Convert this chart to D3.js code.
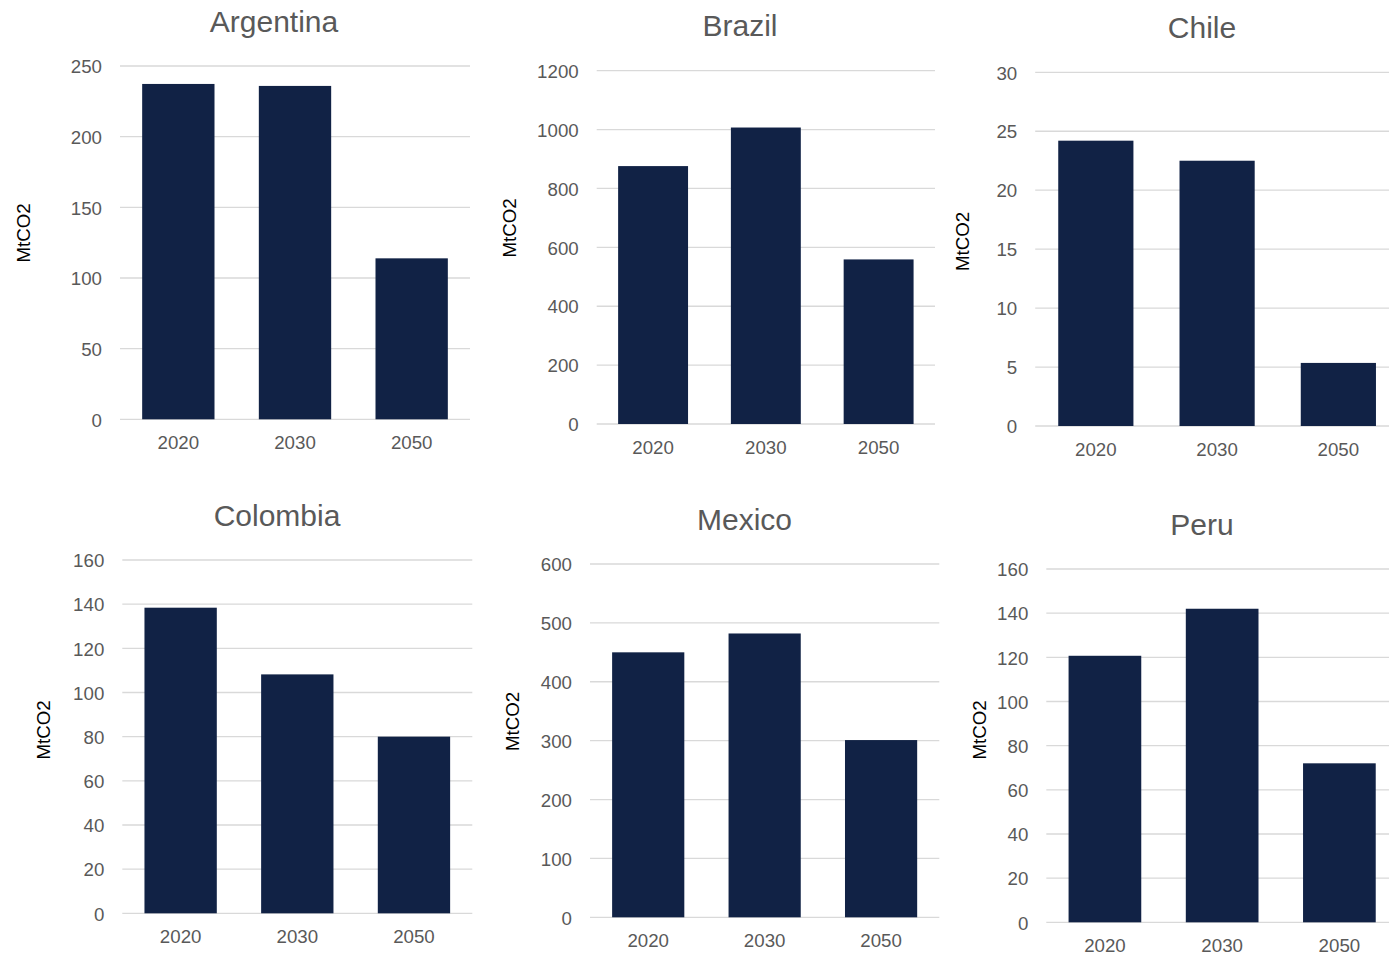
<!DOCTYPE html>
<html>
<head>
<meta charset="utf-8">
<script src="https://cdn.jsdelivr.net/npm/d3@7"></script>
<style>
  html, body { margin: 0; padding: 0; background: #ffffff; overflow: hidden; }
  svg { display: block; font-family: "Liberation Sans", Arial, sans-serif; }
</style>
</head>
<body>
<svg id="chart" width="1389" height="953"></svg>
<script>
// CO2 emissions (MtCO2) by country and year
const countries = ["Argentina", "Brazil", "Chile", "Colombia", "Mexico", "Peru"];
const years = ["2020", "2030", "2050"];
const argentina = [237.3, 235.9, 113.9];
const brazil = [876, 1007, 559];
const chile = [24.2, 22.5, 5.35];
const colombia = [138.4, 108.2, 80.0];
const mexico = [450, 482, 301];
const peru = [120.7, 142.0, 72.0];
const seriesValues = [argentina, brazil, chile, colombia, mexico, peru];
// y-axis maximum and tick step for each country
const axisMax = [250, 1200, 30, 160, 600, 160];
const axisStep = [50, 200, 5, 20, 100, 20];
const yAxisTitle = "MtCO2";

// plot boxes for the six panels (left, right, top, bottom), title centre and y-title position
const panels = [
  { l: 120, r: 470, t: 66, b: 419.3, tx: 274, ytx: 23, yty: 233 },
  { l: 596.7, r: 935, t: 70.7, b: 424, tx: 740, ytx: 509, yty: 228 },
  { l: 1035.2, r: 1399, t: 72.3, b: 426, tx: 1202, ytx: 962, yty: 241.5 },
  { l: 122.3, r: 472.3, t: 560, b: 913.3, tx: 277, ytx: 43, yty: 730 },
  { l: 590, r: 939.3, t: 564, b: 917.3, tx: 744.5, ytx: 512, yty: 721.5 },
  { l: 1046.3, r: 1398, t: 569, b: 922.3, tx: 1202, ytx: 979.5, yty: 730 }
];

const svg = d3.select("#chart");
const barColor = "#112245";
const gridColor = "#d9d9d9";
const textGray = "#595959";

countries.forEach((name, i) => {
  const p = panels[i];
  const values = seriesValues[i];
  const g = svg.append("g");

  const x = d3.scaleBand().domain(years).range([p.l, p.r])
    .paddingInner(0.38).paddingOuter(0.19);
  const y = d3.scaleLinear().domain([0, axisMax[i]]).range([p.b, p.t]);
  const ticks = d3.range(0, axisMax[i] + axisStep[i] / 2, axisStep[i]);

  // gridlines
  g.append("g").selectAll("line").data(ticks).join("line")
    .attr("x1", p.l).attr("x2", p.r)
    .attr("y1", d => y(d)).attr("y2", d => y(d))
    .attr("stroke", gridColor).attr("stroke-width", 1.3);

  // y tick labels
  const yAxis = d3.axisLeft(y).tickValues(ticks).tickSize(0).tickPadding(18)
    .tickFormat(d3.format("d"));
  const ya = g.append("g").attr("transform", `translate(${p.l},0)`).call(yAxis);
  ya.select(".domain").remove();
  ya.selectAll("text").attr("fill", textGray).style("font-size", "18.7px")
    .attr("dy", "0.36em");

  // bars
  g.append("g").selectAll("rect").data(values).join("rect")
    .attr("x", (d, j) => x(years[j]))
    .attr("width", x.bandwidth())
    .attr("y", d => y(d))
    .attr("height", d => y(0) - y(d))
    .attr("fill", barColor);

  // x tick labels
  const xAxis = d3.axisBottom(x).tickSize(0).tickPadding(0);
  const xa = g.append("g").attr("transform", `translate(0,${p.b})`).call(xAxis);
  xa.select(".domain").remove();
  xa.selectAll("text").attr("fill", textGray).style("font-size", "18.7px")
    .attr("dy", null).attr("y", 30);

  // title
  g.append("text")
    .attr("x", p.tx)
    .attr("y", p.t - 34.5)
    .attr("text-anchor", "middle")
    .attr("fill", textGray)
    .style("font-size", "30px")
    .text(name);

  // y-axis title
  g.append("text")
    .attr("transform", `translate(${p.ytx + 6.5},${p.yty}) rotate(-90)`)
    .attr("text-anchor", "middle")
    .attr("fill", "#000000")
    .style("font-size", "18.7px")
    .text(yAxisTitle);
});
</script>
</body>
</html>
